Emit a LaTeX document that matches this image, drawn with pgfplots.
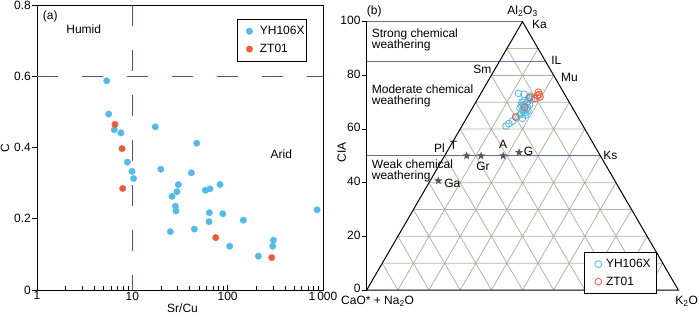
\documentclass[border=0pt]{standalone}
\usepackage{fontspec}
\setmainfont{Liberation Sans}
\usepackage{pgfplots}
\pgfplotsset{compat=1.18}
\definecolor{ptblue}{RGB}{84,186,232}
\definecolor{ptred}{RGB}{234,92,58}
\definecolor{dashcol}{RGB}{62,88,140}
\definecolor{zonecol}{RGB}{95,115,165}
\definecolor{gridcol}{RGB}{185,176,172}
\definecolor{starcol}{RGB}{85,85,85}
\newcommand\fs{\fontsize{12bp}{12.5bp}\selectfont}
\newcommand\fb{\fontsize{12bp}{11.5bp}\selectfont}
\pgfdeclareplotmark{fstar}{%
  \pgfpathmoveto{\pgfpointpolar{90}{\pgfplotmarksize}}%
  \pgfpathlineto{\pgfpointpolar{126}{0.4\pgfplotmarksize}}%
  \pgfpathlineto{\pgfpointpolar{162}{\pgfplotmarksize}}%
  \pgfpathlineto{\pgfpointpolar{198}{0.4\pgfplotmarksize}}%
  \pgfpathlineto{\pgfpointpolar{234}{\pgfplotmarksize}}%
  \pgfpathlineto{\pgfpointpolar{270}{0.4\pgfplotmarksize}}%
  \pgfpathlineto{\pgfpointpolar{306}{\pgfplotmarksize}}%
  \pgfpathlineto{\pgfpointpolar{342}{0.4\pgfplotmarksize}}%
  \pgfpathlineto{\pgfpointpolar{18}{\pgfplotmarksize}}%
  \pgfpathlineto{\pgfpointpolar{54}{0.4\pgfplotmarksize}}%
  \pgfpathclose
  \pgfusepathqfillstroke}
\begin{document}
\begin{tikzpicture}[font=\fs]
\useasboundingbox (0,0) rectangle (700bp,314bp);
% ---------------- panel (a)
\begin{axis}[
  at={(37bp,24bp)}, anchor=south west,
  scale only axis, width=286bp, height=285bp,
  xmode=log, xmin=1, xmax=1000, ymin=0, ymax=0.8,
  xtick={1,10,100,1000}, xticklabels={1,10,100,1\,000},
  ytick={0,0.2,0.4,0.6,0.8}, yticklabels={0,0.2,0.4,0.6,0.8},
  xtick pos=bottom, ytick pos=left,
  xtick align=inside, ytick align=outside,
  major tick length=5bp, minor tick length=3.5bp,
  axis line style={line width=0.9bp, black},
  tick style={line width=0.7bp, black},
  tick label style={font=\fs},
  xticklabel style={inner ysep=1.5bp},
  yticklabel style={inner xsep=1bp},
  /pgf/number format/assume math mode=true,
  xlabel={Sr/Cu}, ylabel={C},
  label style={font=\fs},
  xlabel style={at={(axis description cs:0.509,-0.063)}, anchor=center},
  ylabel style={at={(axis description cs:-0.112,0.498)}, anchor=center},
  legend cell align=left,
  legend style={at={(0.944,0.951)}, anchor=north east, draw=black, line width=0.8bp,
    font=\fs, inner xsep=2bp, inner ysep=3bp, row sep=0pt, nodes={inner sep=0pt}},
  legend image code/.code={\path (-10bp,-8.5bp) (10bp,8.5bp); \draw[#1] plot coordinates {(0bp,0bp)};},
]
\addplot[dashcol, line width=0.9bp, dash pattern=on 21bp off 24bp, forget plot] coordinates {(1,0.6) (1000,0.6)};
\addplot[dashcol, line width=0.9bp, dash pattern=on 21bp off 24bp, forget plot] coordinates {(10,0.8) (10,0)};
\addplot[only marks, mark=*, mark size=3.3bp, color=ptblue, mark options={draw=ptblue, fill=ptblue, line width=0.2bp}] coordinates {
(5.39,0.587) (5.65,0.494) (6.47,0.450) (7.6,0.441) (17.4,0.458) (47.4,0.412)
(8.87,0.359) (9.93,0.333) (10.3,0.313) (19.9,0.339) (41.6,0.329) (30.4,0.296)
(26.1,0.263) (29.4,0.276) (28.3,0.235) (28.7,0.222) (25.1,0.164) (44.7,0.171)
(58.3,0.280) (65.3,0.284) (83.2,0.296) (64.3,0.217) (63.8,0.192) (88.8,0.214)
(146,0.196) (105,0.123) (210,0.095) (302,0.140) (297,0.123) (867,0.225)
};
\addlegendentry{YH106X}
\addplot[only marks, mark=*, mark size=3.3bp, color=ptred, mark options={draw=ptred, fill=ptred, line width=0.2bp}] coordinates {
(6.58,0.465) (7.8,0.397) (7.93,0.285) (75,0.147) (290,0.091)
};
\addlegendentry{ZT01}
\node[anchor=west, inner sep=0pt] at (axis cs:1.148,0.767) {(a)};
\node at (axis cs:3.09,0.732) {Humid};
\node at (axis cs:365,0.38) {Arid};
\end{axis}
% ---------------- panel (b)
\begin{axis}[
  at={(366.7bp,24bp)}, anchor=south west,
  scale only axis, width=311.6bp, height=268.3bp,
  xmin=0, xmax=100, ymin=0, ymax=100,
  hide x axis, axis y line*=left,
  ytick={0,20,40,60,80,100},
  ytick align=outside, major tick length=5bp,
  axis line style={line width=0.9bp, black},
  tick style={line width=0.7bp, black},
  tick label style={font=\fs},
  yticklabel style={inner xsep=1bp, yshift=1.2bp},
  /pgf/number format/assume math mode=true,
  ylabel={CIA}, label style={font=\fs},
  ylabel style={at={(axis description cs:-0.08,0.514)}, anchor=center},
  clip=false, unbounded coords=jump,
  legend cell align=left,
  legend style={at={(0.931,0.1405)}, anchor=north east, draw=black, line width=0.8bp,
    font=\fs, inner xsep=5.7bp, inner ysep=2.7bp, row sep=0pt, nodes={inner sep=0pt}},
  legend image code/.code={\path (-8bp,-8.35bp) (7.3bp,8.35bp); \draw[#1] plot coordinates {(0bp,0bp)};},
]
% ternary grid
\addplot[gridcol, line width=0.8bp, forget plot] coordinates {
(5,10) (95,10) (nan,nan) (10,20) (90,20) (nan,nan) (15,30) (85,30) (nan,nan)
(20,40) (80,40) (nan,nan) (25,50) (75,50) (nan,nan) (30,60) (70,60) (nan,nan)
(35,70) (65,70) (nan,nan) (40,80) (60,80) (nan,nan) (45,90) (55,90) (nan,nan)
(10,0) (55,90) (nan,nan) (20,0) (60,80) (nan,nan) (30,0) (65,70) (nan,nan)
(40,0) (70,60) (nan,nan) (50,0) (75,50) (nan,nan) (60,0) (80,40) (nan,nan)
(70,0) (85,30) (nan,nan) (80,0) (90,20) (nan,nan) (90,0) (95,10) (nan,nan)
(10,0) (5,10) (nan,nan) (20,0) (10,20) (nan,nan) (30,0) (15,30) (nan,nan)
(40,0) (20,40) (nan,nan) (50,0) (25,50) (nan,nan) (60,0) (30,60) (nan,nan)
(70,0) (35,70) (nan,nan) (80,0) (40,80) (nan,nan) (90,0) (45,90)
};
% zone lines
\addplot[zonecol, line width=1bp, forget plot] coordinates {(0,100) (50,100) (nan,nan) (0,85) (57.5,85) (nan,nan) (0,50) (75,50)};
% triangle
\addplot[black, line width=1bp, line join=miter, forget plot] coordinates {(0,0) (50,100) (100,0) (0,0)};
% minerals
\addplot[only marks, mark=fstar, mark size=3.6bp, starcol, forget plot] coordinates {
(32.1,50) (36.7,50) (43.8,50) (48.9,51.3) (23.0,40.7)
};
\addplot[only marks, mark=o, mark size=3.4bp, ptblue, line width=0.8bp] coordinates {
(48.7,73.3) (50.5,73.0) (44.7,61.1) (45.6,62.0) (46.8,62.9) (48.0,64.2)
(49.2,65.3) (49.7,65.9) (50.0,64.0) (51.0,65.2) (50.3,66.5) (49.2,67.7)
(50.0,67.0) (50.6,68.5) (51.3,69.6) (51.8,70.4) (52.9,71.1) (52.0,71.4)
(52.5,72.3) (51.2,67.5) (50.3,69.0) (49.6,68.8) (51.6,68.0) (50.8,66.0)
(50.5,70.5) (51.7,66.8) (52.3,69.0) (49.8,70.0)
};
\addlegendentry{YH106X}
\addplot[only marks, mark=o, mark size=3.4bp, ptred, line width=0.8bp] coordinates {
(47.8,64.5) (50.7,68.1) (52.4,71.8) (54.0,71.4) (54.8,72.5) (55.1,73.7)
(55.6,71.9) (55.4,72.8)
};
\addlegendentry{ZT01}
\node[anchor=west, inner sep=0pt] at (axis cs:0,103.7) {(b)};
\node at (axis cs:50,103.8) {Al\textsubscript{2}O\textsubscript{3}};
\node[anchor=west, inner sep=0pt] at (axis cs:53,99.1) {Ka};
\node[anchor=west, inner sep=0pt] at (axis cs:59.2,85.7) {IL};
\node[anchor=east, inner sep=0pt] at (axis cs:40.1,82.3) {Sm};
\node[anchor=west, inner sep=0pt] at (axis cs:62.3,79.3) {Mu};
\node[anchor=west, inner sep=0pt] at (axis cs:75.9,50.1) {Ks};
\node[anchor=east, inner sep=0pt] at (axis cs:25.1,52.8) {Pl};
\node at (axis cs:27.9,53.8) {T};
\node at (axis cs:43.8,54.4) {A};
\node at (axis cs:51.9,51.5) {G};
\node at (axis cs:37.3,46) {Gr};
\node at (axis cs:27.5,39.8) {Ga};
\node[anchor=west, inner sep=0pt, align=left, font=\fb] at (axis cs:1.6,93.2) {Strong chemical\\weathering};
\node[anchor=west, inner sep=0pt, align=left, font=\fb] at (axis cs:1.6,72.3) {Moderate chemical\\weathering};
\node[anchor=west, inner sep=0pt, align=left, font=\fb] at (axis cs:1.6,44.3) {Weak chemical\\weathering};
\node[inner sep=0pt] at (axis cs:3.5,-4.1) {CaO* + Na\textsubscript{2}O};
\node[inner sep=0pt] at (axis cs:102.7,-4.1) {K\textsubscript{2}O};
\end{axis}
\end{tikzpicture}
\end{document}
